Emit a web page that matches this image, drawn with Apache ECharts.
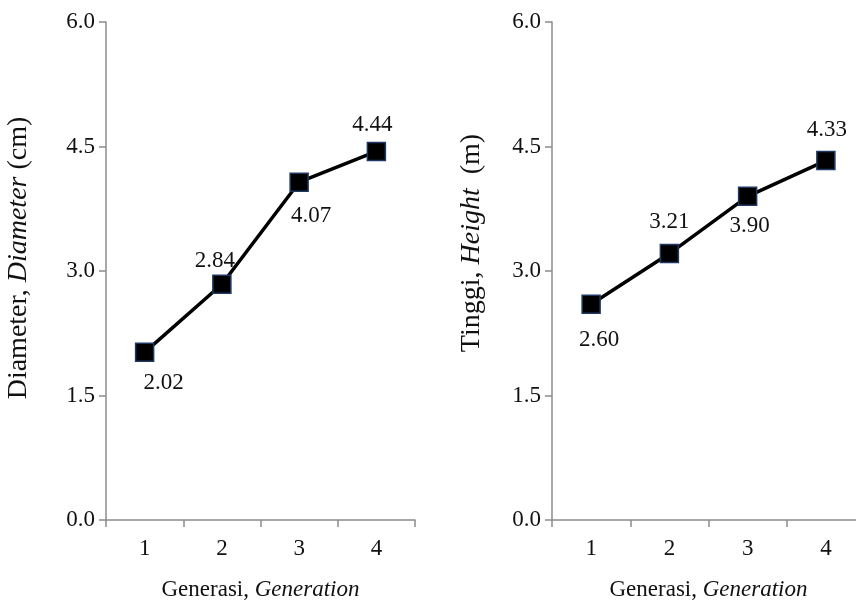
<!DOCTYPE html>
<html><head><meta charset="utf-8">
<script src="https://cdn.jsdelivr.net/npm/echarts@6/dist/echarts.min.js"></script>
<style>html,body{margin:0;padding:0;background:#fff}#c{width:856px;height:612px}</style>
</head><body><div id="c"></div>
<script>
const categories = ['1', '2', '3', '4'];
const diameterValues = [2.02, 2.84, 4.07, 4.44];
const heightValues = [2.60, 3.21, 3.90, 4.33];
const yTicks = [0, 1.5, 3.0, 4.5, 6.0];

const FONT = '"Liberation Serif", "DejaVu Serif", serif';
const FS = 23;
const NFS = 28;
const axisGrey = '#8c8c8c';
const labelPlace = ['bottom', 'top', 'bottom', 'top'];
const leftOffsets = [[19, 9], [-7, -2], [12, 13], [-4, -5]];
const rightOffsets = [[8, 15], [0, -10], [2, 8], [1, -9]];

function xAxis(gi) {
  return {
    type: 'category', gridIndex: gi, data: categories, boundaryGap: true,
    axisLine: { lineStyle: { color: axisGrey, width: 1.5 } },
    axisTick: { show: true, inside: false, length: 7, alignWithLabel: false, lineStyle: { color: axisGrey, width: 1.5 } },
    axisLabel: { color: '#111', fontFamily: FONT, fontSize: FS, margin: 17 },
    name: '{a|Generasi, }{b|Generation}', nameLocation: 'middle', nameGap: 58,
    nameTextStyle: { rich: { a: { fontFamily: FONT, fontSize: FS, color: '#111' }, b: { fontFamily: FONT, fontSize: FS, fontStyle: 'italic', color: '#111' } } }
  };
}
function yAxis(gi, nameRich, gap, pad) {
  return {
    type: 'value', gridIndex: gi, min: yTicks[0], max: yTicks[yTicks.length - 1], interval: 1.5,
    axisLine: { show: true, lineStyle: { color: axisGrey, width: 1.5 } },
    axisTick: { show: true, inside: false, length: 7, lineStyle: { color: axisGrey, width: 1.5 } },
    splitLine: { show: false },
    axisLabel: { color: '#111', fontFamily: FONT, fontSize: FS, margin: 11, formatter: v => v.toFixed(1) },
    name: nameRich, nameLocation: 'middle', nameGap: gap, nameRotate: 90,
    nameTextStyle: { padding: [0, 0, 0, pad], rich: { a: { fontFamily: FONT, fontSize: NFS, color: '#111' }, b: { fontFamily: FONT, fontSize: NFS, fontStyle: 'italic', color: '#111' } } }
  };
}
function series(gi, values, offsets) {
  return {
    type: 'line', xAxisIndex: gi, yAxisIndex: gi,
    data: values.map((v, i) => ({
      value: v,
      label: { position: labelPlace[i], offset: offsets[i] }
    })),
    symbol: 'rect', symbolSize: 18,
    lineStyle: { color: '#000', width: 3.5 },
    itemStyle: { color: '#000', borderColor: '#1f3864', borderWidth: 1.5 },
    label: { show: true, fontFamily: FONT, fontSize: FS, color: '#111', distance: 0, formatter: p => p.value.toFixed(2) },
    animation: false, z: 5
  };
}

const chart = echarts.init(document.getElementById('c'), null, { renderer: 'canvas' });
chart.setOption({
  animation: false,
  backgroundColor: '#fff',
  grid: [
    { left: 106, width: 309, top: 22, bottom: 92, outerBoundsMode: 'none', containLabel: false },
    { left: 552, width: 313, top: 22, bottom: 92, outerBoundsMode: 'none', containLabel: false }
  ],
  xAxis: [xAxis(0), xAxis(1)],
  yAxis: [
    yAxis(0, '{a|Diameter, }{b|Diameter}{a| (cm)}', 73, 26),
    yAxis(1, '{a|Tinggi, }{b|Height}{a|  (m)}', 66, 56)
  ],
  series: [series(0, diameterValues, leftOffsets), series(1, heightValues, rightOffsets)]
});
</script></body></html>
